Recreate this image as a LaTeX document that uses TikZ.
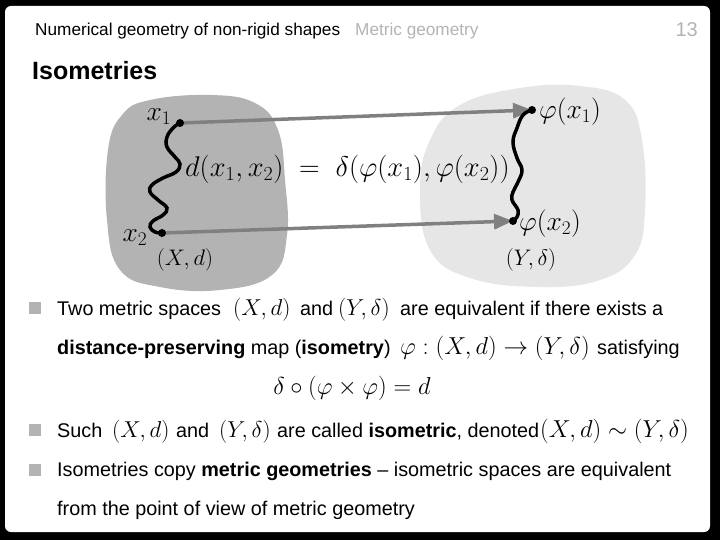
\RequirePackage{fix-cm}
\documentclass[tikz,border=0pt]{standalone}
\usepackage{amsmath,amssymb}
\usepackage[no-math]{fontspec}
\setmainfont{Liberation Sans}
\usetikzlibrary{arrows.meta,positioning}

\definecolor{blobdark}{HTML}{B3B3B3}
\definecolor{bloblight}{HTML}{E6E6E6}
\definecolor{maparrow}{HTML}{808080}
\definecolor{hdrgray}{HTML}{B4B4B4}

\begin{document}
\begin{tikzpicture}[
    x=1pt, y=-1pt,
    txt/.style={anchor=base west, inner sep=0pt, font=\fontsize{19.8}{23}\selectfont},
    mth/.style={anchor=base west, inner sep=0pt, font=\fontsize{23}{27}\selectfont},
    mthl/.style={anchor=base west, inner sep=0pt, font=\fontsize{24.5}{28}\selectfont},
    big/.style={inner sep=0pt, font=\fontsize{27.5}{32}\selectfont},
    lab/.style={inner sep=0pt, font=\fontsize{22.5}{26}\selectfont},
    bull/.style={fill=blobdark, minimum size=12pt, inner sep=0pt},
    maparr/.style={-{Triangle[length=19pt,width=15pt]}, line width=3.5pt, color=maparrow},
    wave/.style={line width=3.5pt, line cap=round, black},
]
\useasboundingbox (0,0) rectangle (720,540);

%% ── Slide frame ──────────────────────────────────────────────────────────────
\fill[black] (0,0) rectangle (720,540);
\fill[white, rounded corners=6pt] (5,6) rectangle (710,532);

%% ── Header and title ─────────────────────────────────────────────────────────
\node[anchor=base west, inner sep=0pt, font=\fontsize{17.2}{20}\selectfont] (hdr) at (35,36)
      {Numerical geometry of non-rigid shapes};
\node[anchor=base west, inner sep=0pt, font=\fontsize{17.2}{20}\selectfont, text=hdrgray] (sec) at (355,36)
      {Metric geometry};
\node[anchor=base east, inner sep=0pt, font=\fontsize{20}{24}\selectfont, text=hdrgray] (pg) at (698,37) {13};
\node[anchor=base west, inner sep=0pt, font=\fontsize{25}{30}\selectfont\bfseries] (ttl) at (32,80) {Isometries};

%% ── The two spaces ───────────────────────────────────────────────────────────
\fill[blobdark] plot[smooth cycle, tension=0.7] coordinates {
  (108,150) (122,115) (150,100) (210,95) (255,103) (278,130) (285,180)
  (287,235) (272,275) (220,290) (160,287) (120,270) (107,220)};
\fill[bloblight] plot[smooth cycle, tension=0.7] coordinates {
  (420,190) (430,140) (460,105) (520,88) (580,86) (625,100) (642,140)
  (645,210) (635,255) (600,280) (540,287) (470,278) (430,250)};

\coordinate (xa) at (180,123);
\coordinate (xb) at (162,233);
\coordinate (ya) at (532,110);
\coordinate (yb) at (513,221);

% map arrows
\draw[maparr] (xa) -- (ya);
\draw[maparr] (xb) -- (yb);

% geodesic distances
\draw[wave] plot[smooth, tension=0.7] coordinates {
  (180,123) (173,128) (167,137) (167,147) (175,157) (180,164) (176,172)
  (163,178) (152,185) (150,192) (158,200) (167,208) (163,215) (153,221)
  (150,227) (155,232) (162,233)};
\draw[wave] plot[smooth, tension=0.7] coordinates {
  (532,110) (523,115) (517,128) (513,142) (517,158) (522,170) (518,182)
  (513,192) (512,200) (518,210) (517,217) (513,221)};

\foreach \p in {xa,xb,ya,yb} \fill (\p) circle (4pt);

% labels
\node[big] (lxa) at (159,117) {$x_1$};
\node[big] (lxb) at (135,238) {$x_2$};
\node[big, anchor=west] (lya) at (539,112) {$\varphi(x_1)$};
\node[big, anchor=west] (lyb) at (519,224) {$\varphi(x_2)$};
\node[lab] (sx) at (185,260) {$(X,d)$};
\node[lab] (sy) at (531,260) {$(Y,\delta)$};
\node[big, anchor=west, font=\fontsize{28.5}{33}\selectfont] (eqd) at (185,169)
      {$d(x_1,x_2) \;=\; \delta(\varphi(x_1),\varphi(x_2))$};

%% ── Bullets ──────────────────────────────────────────────────────────────────
\foreach \y in {308,430,470} \node[bull] at (35,\y) {};

\node[txt] (l1a) at (57,315)  {Two metric spaces};
\node[mth] (l1b) at (233,315) {$(X,d)$};
\node[txt] (l1c) at (300,315) {and};
\node[mth] (l1d) at (338,315) {$(Y,\delta)$};
\node[txt] (l1e) at (400,315) {are equivalent if there exists a};

\node[txt] (l2a) at (57,354)  {\textbf{distance-preserving} map (\textbf{isometry})};
\node[mthl] (l2b) at (400,354) {$\varphi:(X,d)\to(Y,\delta)$};
\node[txt] (l2c) at (597,354) {satisfying};

\node[mthl, anchor=base] (l2d) at (352,394) {$\delta\circ(\varphi\times\varphi)=d$};

\node[txt] (l3a) at (57,437)  {Such};
\node[mth] (l3b) at (112,437) {$(X,d)$};
\node[txt] (l3c) at (176,437) {and};
\node[mth] (l3d) at (219,437) {$(Y,\delta)$};
\node[txt] (l3e) at (277,437) {are called \textbf{isometric}, denoted};
\node[mthl] (l3f) at (540,437) {$(X,d)\sim(Y,\delta)$};

\node[txt] (l4a) at (57,476)  {Isometries copy \textbf{metric geometries} -- isometric spaces are equivalent};
\node[txt] (l5a) at (57,515)  {from the point of view of metric geometry};

\end{tikzpicture}
\end{document}
